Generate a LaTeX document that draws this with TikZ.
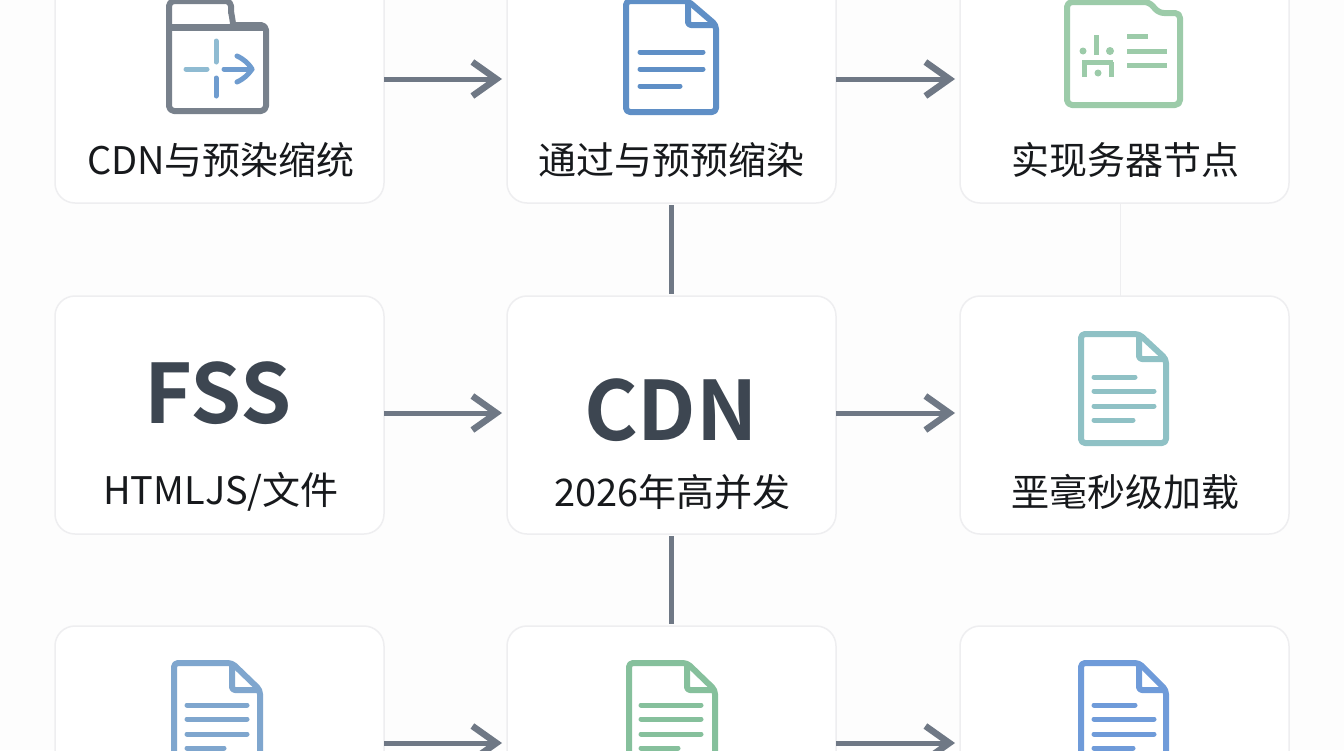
\documentclass[tikz,border=0pt]{standalone}
\usepackage{fontspec}
\setmainfont[BoldFont={Noto Sans CJK SC Bold}]{Noto Sans CJK SC}
\usetikzlibrary{arrows.meta}
\definecolor{pagebg}{HTML}{FDFDFD}
\definecolor{cardline}{HTML}{EEEEF0}
\definecolor{linkgray}{HTML}{6F7885}
\definecolor{textdark}{HTML}{17191C}
\definecolor{bigdark}{HTML}{3D4651}
\definecolor{foldergray}{HTML}{78818C}
\definecolor{foldergreen}{HTML}{9CCBA9}
\definecolor{docblue}{HTML}{5F8FC6}
\definecolor{doccyan}{HTML}{8FC1C5}
\definecolor{docsteel}{HTML}{7FA6CE}
\definecolor{docgreen}{HTML}{86C09C}
\definecolor{docsky}{HTML}{6F9BD9}
\definecolor{marksky}{HTML}{8FBBD2}
\definecolor{markblue}{HTML}{6F9CCF}
\tikzset{
	card/.style={draw=cardline,fill=white,line width=1.5pt,rounded corners=20pt,
		minimum width=329pt,inner sep=0pt,outer sep=0pt},
	label/.style={text=textdark,font=\fontsize{38}{40}\selectfont,inner sep=0pt},
	bigtext/.style={text=bigdark,font=\bfseries\fontsize{82}{84}\selectfont,inner sep=0pt},
	link/.style={draw=linkgray,line width=5pt,shorten >=5pt,
		-{Straight Barb[length=24pt,width=34pt,line width=6.5pt]}},
	stem/.style={draw=linkgray,line width=5pt,shorten >=2pt,shorten <=2pt},
	faint/.style={draw=cardline,line width=1.5pt},
	outline/.style={line width=6pt,line join=round},
	textrule/.style={line width=5pt,line cap=round}
}
% left, top, right, bottom, fold x, fold y, colour
\newcommand{\docpage}[7]{
	\draw[outline,#7,rounded corners=4pt] (#5,#2) -- (#1,#2) -- (#1,#4) -- (#3,#4) -- (#3,#6) -- cycle;
	\draw[outline,#7,rounded corners=3pt] (#5,#2) -- (#5,#6) -- (#3,#6);
}
\begin{document}
\begin{tikzpicture}[x=1pt,y=-1pt]
	\useasboundingbox (0,0) rectangle (1344,750);
	\clip (0,0) rectangle (1344,750);
	\fill[pagebg] (0,0) rectangle (1344,750);

	% cards
	\node[card,minimum height=248pt] (cdnrender) at (219.5,79) {};
	\node[card,minimum height=248pt] (prerender) at (671.5,79) {};
	\node[card,minimum height=248pt] (servernode) at (1124.5,79) {};
	\node[card,minimum height=238pt] (fss) at (219.5,415) {};
	\node[card,minimum height=238pt] (cdn) at (671.5,415) {};
	\node[card,minimum height=238pt] (loading) at (1124.5,415) {};
	\node[card,minimum height=234pt] (docleft) at (219.5,743) {};
	\node[card,minimum height=234pt] (docmid) at (671.5,743) {};
	\node[card,minimum height=234pt] (docright) at (1124.5,743) {};

	% connectors
	\draw[link] (cdnrender) -- (prerender);
	\draw[link] (prerender) -- (servernode);
	\draw[link] ([yshift=2pt]fss.east) -- ([yshift=2pt]cdn.west);
	\draw[link] ([yshift=2pt]cdn.east) -- ([yshift=2pt]loading.west);
	\draw[link] (docleft) -- (docmid);
	\draw[link] (docmid) -- (docright);
	\draw[stem] (prerender.south) -- (cdn.north);
	\draw[stem] (cdn.south) -- (docmid.north);
	\draw[faint] ([xshift=-4pt]servernode.south) -- ([xshift=-4pt]loading.north);

	% labels
	\node[label] (cdnrendertext) at (221,160) {CDN与预染缩统};
	\node[label] (prerendertext) at (671.5,160) {通过与预预缩染};
	\node[label] (servernodetext) at (1125.5,160) {实现务器节点};
	\node[label] (fsstext) at (221,492) {HTMLJS/文件};
	\node[label] (cdntext) at (672.5,492) {2026年高并发};
	\node[label] (loadingtext) at (1125.5,492) {垩毫秒级加载};
	\node[bigtext] (fssbig) at (218,393) {FSS};
	\node[bigtext] (cdnbig) at (671,410) {CDN};

	% grey folder
	\draw[outline,foldergray,rounded corners=5pt] (231,1) -- (169,1) -- (169,111) -- (266,111) -- (266,25) -- (238,25)
		to[out=180,in=90] (231,16) -- cycle;
	\draw[line width=7pt,foldergray] (169,27) -- (266,27);
	\draw[textrule,marksky] (186,69) -- (207,69);
	\draw[textrule,marksky] (216,41) -- (216,62);
	\draw[textrule,markblue] (216,78) -- (216,96);
	\draw[textrule,markblue] (224,69) -- (252,69);
	\draw[textrule,markblue,line join=round] (237,56) to[bend left=15] (252,69) to[bend left=15] (237,82);

	% green folder
	\draw[outline,foldergreen,rounded corners=5pt] (1067,2) -- (1067,105) -- (1180,105) -- (1180,13) -- (1159,13) -- (1149,2) -- cycle;
	\foreach \ypos/\xend in {36/1148,51/1167,65/1167}
		\draw[line width=5pt,foldergreen] (1127,\ypos) -- (\xend,\ypos);
	\draw[line width=5pt,foldergreen] (1096,35) -- (1096,55);
	\draw[line width=5pt,foldergreen] (1082,62) -- (1113,62);
	\draw[line width=5pt,foldergreen] (1084,62) -- (1084,77);
	\draw[line width=5pt,foldergreen] (1111,62) -- (1111,77);
	\fill[foldergreen] (1083,51) circle (3.5pt) (1110,51) circle (4pt) (1098,73) circle (3.5pt);

	% documents
	\docpage{626}{1}{716}{112}{688}{25}{docblue}
	\foreach \ypos/\xend in {52/703,69/703,86/680}
		\draw[textrule,docblue] (640,\ypos) -- (\xend,\ypos);

	\docpage{1081}{334}{1166}{443}{1139}{359}{doccyan}
	\foreach \ypos/\xend in {377/1135,391/1154,406/1154,420/1133}
		\draw[textrule,doccyan] (1094,\ypos) -- (\xend,\ypos);

	\docpage{174}{663}{260}{790}{232}{690}{docsteel}
	\foreach \ypos/\xend in {705/247,719/247,734/247,748/224}
		\draw[textrule,docsteel] (187,\ypos) -- (\xend,\ypos);

	\docpage{629}{663}{715}{790}{687}{690}{docgreen}
	\foreach \ypos/\xend in {705/701,719/701,734/701,748/678}
		\draw[textrule,docgreen] (641,\ypos) -- (\xend,\ypos);

	\docpage{1081}{663}{1166}{790}{1139}{690}{docsky}
	\foreach \ypos/\xend in {705/1135,719/1154,734/1154,748/1133}
		\draw[textrule,docsky] (1094,\ypos) -- (\xend,\ypos);
\end{tikzpicture}
\end{document}
